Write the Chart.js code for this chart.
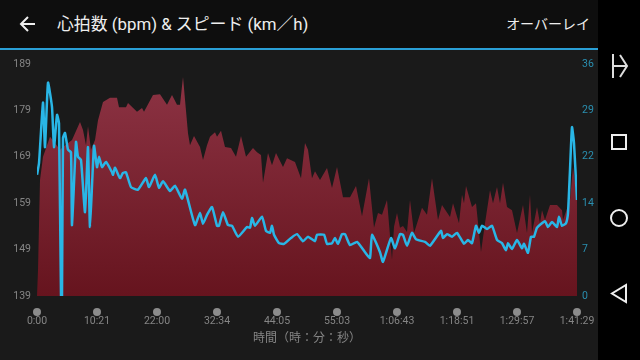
<!DOCTYPE html>
<html>
<head>
<meta charset="utf-8">
<script src="https://cdn.jsdelivr.net/npm/chart.js@4"></script>
<style>
  html, body { margin: 0; padding: 0; background: #000; overflow: hidden; }
  body { width: 640px; height: 360px; position: relative; font-family: Roboto, "Noto Sans CJK JP", sans-serif; }
  #header { position: absolute; left: 0; top: 0; width: 598px; height: 48px; background: #0e0e0e; border-bottom: 2px solid #2a9fd6; color: #eee; }
  #title { position: absolute; left: 57px; top: 13px; font-size: 16.85px; line-height: 22px; white-space: nowrap; }
  #overlay { position: absolute; right: 8px; top: 14px; font-size: 14px; line-height: 20px; white-space: nowrap; }
  #panel { position: absolute; left: 0; top: 50px; width: 598px; height: 310px; background: #1a1a1a; }
  canvas { display: block; }
  svg { position: absolute; left: 0; top: 0; }
</style>
</head>
<body>
<div id="header">
  <div id="title">心拍数 (bpm) &amp; スピード (km／h)</div>
  <div id="overlay">オーバーレイ</div>
</div>
<div id="panel"><canvas id="hr-speed" width="598" height="310"></canvas></div>
<svg width="640" height="360" fill="none" stroke="#eee" stroke-width="2">
  <path d="M35 24H21M28 17l-7 7 7 7"/>
  <path stroke="#ddd" d="M613 54V78M613 66H627M620 55l7 11-7 11"/>
  <rect x="612" y="135" width="14" height="14"/>
  <circle cx="619" cy="218" r="8"/>
  <path d="M626 285V302L612 293.5Z"/>
</svg>
<script>
const hrX = [0,1,3,6,13,18,23,26,35,43,46,49,51,54,58,61,66,73,80,82,89,91,100,105,107,116,123,130,135,140,143,146,151,153,157,163,166,170,173,178,180,184,188,194,199,204,209,216,220,224,226,231,235,239,246,250,258,264,268,271,275,278,283,290,295,300,306,313,319,325,332,337,341,345,350,355,357,360,363,366,370,373,377,385,390,395,401,405,413,416,422,425,427,429,435,439,444,448,453,456,460,463,466,470,475,480,486,490,493,495,500,503,505,508,513,520,525,526,533,536,540];
const hrValues = [139,144.6,164,169,173.3,172,170.5,171.1,172.6,176.5,174.8,171.5,175.6,170.5,172.6,176.9,180.8,181.7,181.7,179.7,179.7,180.6,178.7,179.5,178.7,182.3,182.5,180.2,182.3,180.2,180.2,186.2,174.1,171.5,173.5,171.1,168.3,171.5,173.3,174.3,173.3,174.6,171.1,170.9,169,173.5,169,170.9,170,169.4,163.4,169.8,167.2,169.8,166.8,168.7,167.9,164.4,172,170.5,164.4,165.9,164,166.6,162.3,166.8,160.3,160.3,162.7,156.2,164.4,153.7,156.9,156.5,159.7,146.8,153.9,156.9,153.7,154.1,152.8,159.7,152.6,158,156.5,164.4,155.4,158.6,156,159,154.7,160.8,159,162.7,158.2,159,148.5,154.7,161.8,159,162.5,159,163.4,158.2,157.5,152.6,158.6,152.6,160.8,152.6,158.2,154.7,157.5,155.4,158.6,158.6,157.5,155.4,159.7,166.8,159.7];

const speedX = [0,2,6,8,11,15,17,20,22,24,25,26,28,31,34,35,39,41,44,48,51,53,57,60,62,65,69,75,76,78,83,86,89,94,101,109,112,118,122,126,133,138,145,148,158,163,166,170,175,180,182,186,191,195,201,210,213,215,218,225,229,233,235,237,242,247,254,260,266,271,278,280,287,290,295,298,301,305,308,313,320,328,333,335,343,346,354,358,363,366,370,375,379,388,393,404,406,410,415,420,427,431,435,439,442,445,450,455,460,465,469,471,475,480,485,487,491,494,497,500,508,511,515,520,522,525,529,531,533,535,537,540];
const speedValues = [18.8,20.6,30,23.1,33.1,29.3,23.1,28.1,26.8,0,0,24.5,25.3,22.7,22.3,11,23.9,21.6,21.1,13,23.1,10.7,23.3,20,21.6,20,20.8,19.2,18.8,19.9,18.3,19.1,19.2,16.9,16.5,18.3,16.9,18.8,16.8,17.8,16.3,17.1,15.1,16.5,11,12.9,11.2,12.6,13.8,10.9,10.9,13,11,10.9,9.2,10.7,10.6,12.1,10.9,12.3,10.1,9.8,10.9,9.5,8.2,8.1,9,9.6,8.5,9.2,8.5,9.5,9.5,8.1,8.2,9,8.1,9.6,9.6,7.9,8.4,6.8,5.9,9.5,6.8,5.3,9,7.4,9.6,9.5,7.8,9.8,8.8,8.4,7.8,10.1,9,9.6,9.2,9.8,8.1,8.7,8.2,10.9,9.8,10.9,10.4,10.9,8.7,8.2,7.1,8.2,7.3,8.7,7.4,8.1,6.7,9.2,9.2,10.6,11.6,10.7,11.5,10.7,12.3,10.9,11.3,12.9,19.6,26.2,23.7,14.9];

const timeLabels = ["0:00","10:21","22:00","32:34","44:05","55:03","1:06:43","1:18:51","1:29:57","1:41:29"];
const speedTicks = [0,7,14,22,29,36];

function toPoints(xs, ys) {
  return xs.map((x, i) => ({ x: x, y: ys[i] }));
}

// labels hang over the plot edges, don't let them shrink the plot
function noEdgePadding(axis) {
  axis.paddingLeft = 0;
  axis.paddingRight = 0;
  axis.paddingTop = 0;
  axis.paddingBottom = 0;
}

// grey dots sit just above the time labels
const tickDots = {
  id: 'tickDots',
  beforeDraw(chart) {
    const c = chart.ctx;
    const xAxis = chart.scales.x;
    c.save();
    c.fillStyle = '#8c8c8c';
    xAxis.ticks.forEach(t => {
      c.beginPath();
      c.arc(xAxis.getPixelForValue(t.value), 262, 4, 0, Math.PI * 2);
      c.fill();
    });
    c.restore();
  }
};

const ctx = document.getElementById('hr-speed').getContext('2d');

new Chart(ctx, {
  type: 'line',
  data: {
    datasets: [{
      label: 'スピード',
      data: toPoints(speedX, speedValues),
      yAxisID: 'ySpeed',
      borderColor: '#29b6e6',
      borderWidth: 2.5,
      borderJoinStyle: 'round',
      tension: 0.15,
      pointRadius: 0,
      fill: false,
      order: 1
    }, {
      label: '心拍数',
      data: toPoints(hrX, hrValues),
      yAxisID: 'yHr',
      borderWidth: 0,
      pointRadius: 0,
      fill: 'origin',
      order: 2,
      backgroundColor(context) {
        const area = context.chart.chartArea;
        if (!area) return '#6a1520';
        const g = context.chart.ctx.createLinearGradient(0, area.top, 0, area.bottom);
        g.addColorStop(0, '#8f3546');
        g.addColorStop(1, '#66141e');
        return g;
      }
    }]
  },
  options: {
    responsive: false,
    animation: false,
    layout: { padding: { top: 14 } },
    scales: {
      x: {
        type: 'linear',
        min: 0,
        max: 540,
        grid: { display: false, drawTicks: false },
        border: { display: false },
        afterFit(axis) { axis.height = 64; noEdgePadding(axis); },
        ticks: {
          stepSize: 60,
          autoSkip: false,
          maxRotation: 0,
          padding: 19,
          color: '#858585',
          font: { size: 10.5, family: 'Roboto' },
          callback: v => timeLabels[v / 60]
        },
        title: {
          display: true,
          text: '時間（時：分：秒）',
          color: '#858585',
          font: { size: 12, family: '"Noto Sans CJK JP"' },
          padding: { top: 0, bottom: 15 }
        }
      },
      yHr: {
        position: 'left',
        min: 139,
        max: 189,
        grid: { display: false, drawTicks: false },
        border: { display: false },
        afterFit(axis) { axis.width = 37; noEdgePadding(axis); },
        ticks: {
          stepSize: 10,
          padding: 6,
          color: '#858585',
          font: { size: 10.5, family: 'Roboto' }
        }
      },
      ySpeed: {
        position: 'right',
        min: 0,
        max: 36,
        grid: { display: false, drawTicks: false },
        border: { display: false },
        afterFit(axis) { axis.width = 21; noEdgePadding(axis); },
        ticks: {
          stepSize: 7.2,
          padding: 5,
          color: '#2a8fb0',
          font: { size: 10.5, family: 'Roboto' },
          callback: (v, i) => speedTicks[i]
        }
      }
    },
    plugins: {
      legend: { display: false },
      tooltip: { enabled: false }
    }
  },
  plugins: [tickDots]
});
</script>
</body>
</html>
